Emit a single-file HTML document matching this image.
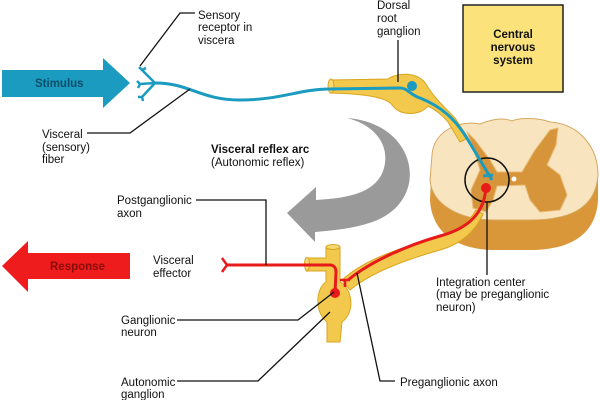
<!DOCTYPE html>
<html><head><meta charset="utf-8"><style>
body{margin:0;background:#fff}
svg{display:block}
text{font-family:"Liberation Sans",Arial,sans-serif;font-size:11.5px;fill:#111}
.b{font-weight:bold}
</style></head><body>
<svg width="600" height="400" viewBox="0 0 600 400">
<!-- CNS box -->
<rect x="463" y="5" width="100" height="87" fill="#fbe27a" stroke="#222" stroke-width="1.5"/>
<text class="b" x="513" y="38" text-anchor="middle">Central</text>
<text class="b" x="513" y="51" text-anchor="middle">nervous</text>
<text class="b" x="513" y="64" text-anchor="middle">system</text>

<!-- Stimulus arrow -->
<polygon points="2,70 103,70 103,58 130,83 103,108 103,97 2,97" fill="#1a9bbf"/>
<text class="b" x="35" y="87" style="fill:#0d4f6a">Stimulus</text>
<!-- Response arrow -->
<polygon points="130,253 28,253 28,241 2,266 28,292 28,279 130,279" fill="#ee1c1c"/>
<text class="b" x="50" y="270" style="fill:#8a0b0b">Response</text>

<!-- Gray curved arrow -->
<path d="M347,118 C400,122 420,165 405,195 C392,220 365,228 315,232 L315,242 L287,213 L316,187 L316,200 C355,198 378,190 384,168 C390,145 375,125 347,118 Z" fill="#9a9a9a"/>

<!-- Spinal cord -->
<path d="M432,155 C434,130 460,120 480,124 C495,118 505,118 512,121 C520,117 540,118 550,122 C580,124 598,148 598,175 L598,200 C596,235 570,250 530,250 L495,250 C460,250 432,235 430,200 Z" fill="#d9973a"/>
<path d="M432,155 C434,130 460,120 480,124 C495,118 505,118 512,121 C520,117 540,118 550,122 C580,124 598,148 598,175 C596,205 575,220 530,220 L495,220 C460,220 432,205 430,180 Z" fill="#f8e5c0" stroke="#d6a860" stroke-width="1"/>
<path d="M497,172 L490,160 L475,140 L467,132 L474,150 L480,170 L471,190 L473,208 L486,212 L493,200 L497,186 L525,185 L530,200 L540,212 L560,210 L567,195 L560,175 L547,165 L556,145 L558,128 L550,130 L535,150 L522,172 Z" fill="#d6953a" stroke="#e9b870" stroke-width="1" stroke-linejoin="round"/>
<circle cx="514" cy="179" r="2.5" fill="#fff"/>
<circle cx="487" cy="180" r="22" fill="none" stroke="#111" stroke-width="1.5"/>

<!-- Dorsal root -->
<path d="M330,80 L388,79 C398,72 418,72 426,84 C432,95 442,105 455,118 L468,138 L460,142 L448,122 C440,112 432,108 428,106 C420,116 400,116 393,106 C388,98 370,94 330,93 Z" fill="#f2c94c" stroke="#d9a520" stroke-width="1"/>
<ellipse cx="331" cy="86" rx="3" ry="7" fill="#f6d870" stroke="#d9a520"/>
<!-- Blue fiber -->
<path d="M155,83 C190,83 200,100 240,100 C280,100 300,89 330,89 L400,88 C408,88 410,95 420,98 C440,106 455,118 468,140 L492,180" fill="none" stroke="#1a9bbf" stroke-width="3"/>
<circle cx="412" cy="86" r="5" fill="#1a9bbf"/>
<path d="M483,176 L493,175" stroke="#1a9bbf" stroke-width="3"/>
<!-- receptor -->
<path d="M155,83 L142,70 M142,70 l-3,-3 M142,70 l4,-2 M155,83 L140,84 l-3,-3 M140,84 l-2,4 M155,83 L142,97 l-4,0 M142,97 l1,4" stroke="#1a9bbf" stroke-width="2.5" fill="none"/>

<!-- ventral root -->
<path d="M342,280 C362,262 392,250 430,240 C455,234 468,224 476,210 L483,214 C476,230 462,244 440,250 C405,260 372,272 350,290 Z" fill="#f2c94c" stroke="#d9a520" stroke-width="1"/>
<!-- Autonomic ganglion -->
<path d="M306,258 L326,258 L326,247 L340,247 L340,282 C352,288 356,312 342,322 L340,342 L327,342 L327,322 C314,312 316,288 326,282 L326,271 L306,271 Z" fill="#f2c94c" stroke="#d9a520" stroke-width="1"/>
<ellipse cx="333" cy="247" rx="7" ry="2.5" fill="#f6d870" stroke="#d9a520"/>
<ellipse cx="307" cy="264" rx="2.5" ry="6.5" fill="#f6d870" stroke="#d9a520"/>
<!-- red paths -->
<path d="M227,265 L330,265 C334,265 336,268 336,272 L335,293" fill="none" stroke="#e81b1b" stroke-width="3"/>
<path d="M486,188 C484,212 470,228 440,236 C405,246 370,262 348,280" fill="none" stroke="#e81b1b" stroke-width="3"/>
<path d="M340,280 L350,280 M345,280 L345,287" stroke="#e81b1b" stroke-width="2.5"/>
<circle cx="486" cy="188" r="5" fill="#e81b1b"/>
<circle cx="335" cy="293" r="5" fill="#e81b1b"/>
<path d="M227,265 L222,258 M227,265 L222,272" stroke="#e81b1b" stroke-width="2.5"/>

<!-- leader lines -->
<g stroke="#111" stroke-width="1.3" fill="none">
<polyline points="195,13 180,13 140,66"/>
<polyline points="87,133 130,133 190,89"/>
<polyline points="398,40 398,82"/>
<polyline points="196,200 266,200 266,265"/>
<polyline points="177,320 298,320 334,292"/>
<polyline points="177,381 258,381 330,312"/>
<polyline points="357,273 380,381 395,381"/>
<polyline points="487,202 487,275"/>
</g>

<!-- labels -->
<text x="198" y="19">Sensory</text>
<text x="198" y="31">receptor in</text>
<text x="198" y="44">viscera</text>
<text x="377" y="9">Dorsal</text>
<text x="377" y="22">root</text>
<text x="377" y="35">ganglion</text>
<text x="42" y="138">Visceral</text>
<text x="42" y="151">(sensory)</text>
<text x="42" y="163">fiber</text>
<text class="b" x="211" y="153">Visceral reflex arc</text>
<text x="211" y="166">(Autonomic reflex)</text>
<text x="117" y="204">Postganglionic</text>
<text x="117" y="217">axon</text>
<text x="153" y="264">Visceral</text>
<text x="153" y="277">effector</text>
<text x="436" y="286">Integration center</text>
<text x="436" y="298">(may be preganglionic</text>
<text x="436" y="311">neuron)</text>
<text x="121" y="324">Ganglionic</text>
<text x="121" y="336">neuron</text>
<text x="121" y="386">Autonomic</text>
<text x="121" y="398">ganglion</text>
<text x="400" y="386">Preganglionic axon</text>
</svg>
</body></html>
